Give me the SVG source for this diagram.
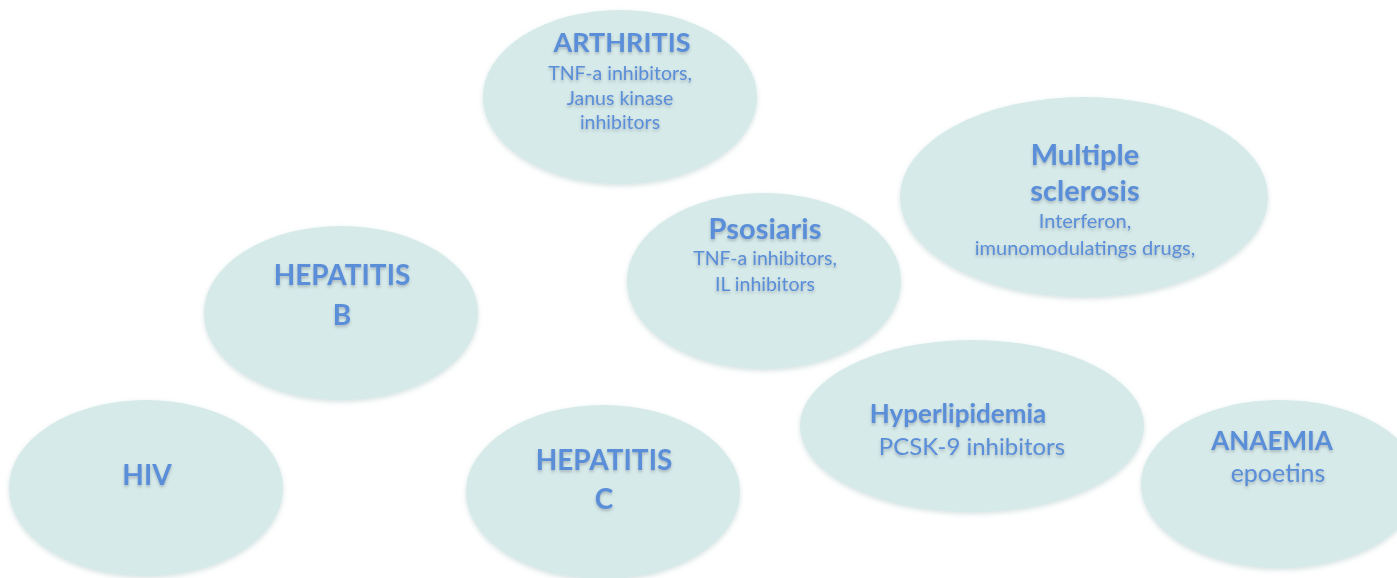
<svg xmlns="http://www.w3.org/2000/svg" width="1397" height="578" viewBox="0 0 1397 578">
<style>
.e{fill:#d5eae9;filter:url(#es)}
.t{font-family:Lato,"Liberation Sans",sans-serif;fill:#5a8ed8;text-anchor:middle;filter:url(#ts)}
.b{font-weight:bold;font-size:27px}
.s{font-size:19.5px}
.m{font-size:24px}
</style>
<defs>
<filter id="es" x="-10%" y="-10%" width="120%" height="125%">
<feDropShadow dx="0" dy="2" stdDeviation="2.5" flood-color="#8aa" flood-opacity="0.35"/>
</filter>
<filter id="ts" x="-10%" y="-20%" width="120%" height="160%">
<feDropShadow dx="0" dy="2" stdDeviation="1.5" flood-color="#556" flood-opacity="0.35"/>
</filter>
</defs>
<rect width="1397" height="578" fill="#ffffff"/>
<g id="arthritis">
<ellipse class="e" cx="620" cy="97" rx="137" ry="87"/>
<text class="t b" x="622" y="52">ARTHRITIS</text>
<text class="t s" x="620" y="80">TNF-a inhibitors,</text>
<text class="t s" x="620" y="105">Janus kinase</text>
<text class="t s" x="620" y="129">inhibitors</text>
</g>
<g id="multiple-sclerosis">
<ellipse class="e" cx="1084" cy="197" rx="184" ry="100"/>
<text class="t b" x="1085" y="165" style="font-size:29px">Multiple</text>
<text class="t b" x="1085" y="201" style="font-size:29px">sclerosis</text>
<text class="t s" x="1085" y="228" style="font-size:20px">Interferon,</text>
<text class="t s" x="1085" y="255" style="font-size:20px">imunomodulatings drugs,</text>
</g>
<g id="psosiaris">
<ellipse class="e" cx="764" cy="281" rx="137" ry="88"/>
<text class="t b" x="765" y="239" style="font-size:29px">Psosiaris</text>
<text class="t s" x="765" y="265">TNF-a inhibitors,</text>
<text class="t s" x="765" y="291">IL inhibitors</text>
</g>
<g id="hepatitis-b">
<ellipse class="e" cx="341" cy="313" rx="137" ry="87"/>
<text class="t b" x="342" y="285" style="font-size:28px">HEPATITIS</text>
<text class="t b" x="342" y="325" style="font-size:28px">B</text>
</g>
<g id="hiv">
<ellipse class="e" cx="146" cy="488" rx="137" ry="88"/>
<text class="t b" x="147" y="485" style="font-size:28px">HIV</text>
</g>
<g id="hepatitis-c">
<ellipse class="e" cx="603" cy="492" rx="137" ry="87"/>
<text class="t b" x="604" y="470" style="font-size:28px">HEPATITIS</text>
<text class="t b" x="604" y="509" style="font-size:28px">C</text>
</g>
<g id="hyperlipidemia">
<ellipse class="e" cx="972" cy="426" rx="172" ry="86"/>
<text class="t b" x="958" y="423" style="font-size:26px">Hyperlipidemia</text>
<text class="t m" x="972" y="455">PCSK-9 inhibitors</text>
</g>
<g id="anaemia">
<ellipse class="e" cx="1280" cy="484" rx="139" ry="84"/>
<text class="t b" x="1272" y="450" style="font-size:26px">ANAEMIA</text>
<text class="t m" x="1278" y="482" style="font-size:25px">epoetins</text>
</g>
<g id="connectors"></g>
</svg>
